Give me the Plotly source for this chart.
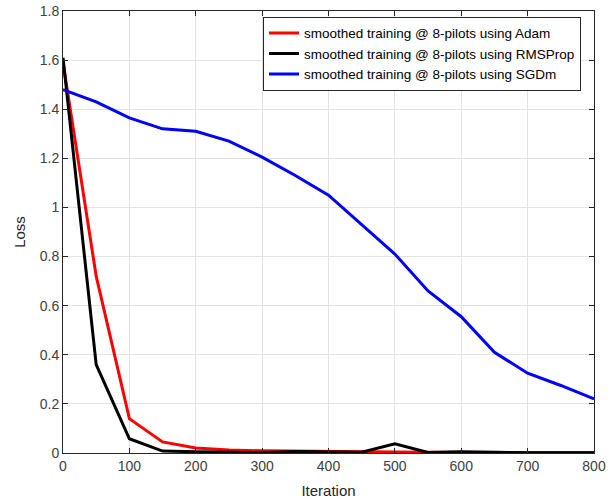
import plotly.graph_objects as go

# Iterations at which the smoothed training loss was recorded
iterations = [0, 50, 100, 150, 200, 250, 300, 350, 400, 450, 500, 550, 600, 650, 700, 750, 800]

loss_adam = [1.59, 0.72, 0.14, 0.045, 0.02, 0.012, 0.009, 0.007, 0.006, 0.005, 0.004, 0.003, 0.003, 0.002, 0.002, 0.002, 0.002]
loss_rmsprop = [1.61, 0.36, 0.058, 0.008, 0.005, 0.002, 0.002, 0.006, 0.003, 0.003, 0.037, 0.002, 0.005, 0.002, 0.001, 0.001, 0.001]
loss_sgdm = [1.48, 1.43, 1.365, 1.32, 1.31, 1.27, 1.205, 1.13, 1.05, 0.93, 0.81, 0.66, 0.555, 0.41, 0.325, 0.275, 0.22]

series_names = [
    "smoothed training @ 8-pilots using Adam",
    "smoothed training @ 8-pilots using RMSProp",
    "smoothed training @ 8-pilots using SGDm",
]
series_colors = ["#ff0000", "#000000", "#0000ff"]

fig = go.Figure()
for name, values, color in zip(series_names, [loss_adam, loss_rmsprop, loss_sgdm], series_colors):
    fig.add_trace(go.Scatter(
        x=iterations, y=values, mode="lines", name=name,
        line=dict(color=color, width=3),
    ))

axis_common = dict(
    showline=True, linecolor="#262626", linewidth=1, mirror="ticks",
    ticks="inside", ticklen=5, tickcolor="#262626",
    showgrid=True, gridcolor="#e3e3e3", gridwidth=1,
    zeroline=False, automargin=False,
    tickfont=dict(family="Liberation Sans, Arial", size=14, color="#404040"),
    title_font=dict(family="Liberation Sans, Arial", size=15, color="#262626"),
)

fig.update_xaxes(range=[0, 800], dtick=100, tick0=0, title_text="Iteration", title_standoff=12, **axis_common)
fig.update_yaxes(range=[0, 1.8], dtick=0.2, tick0=0, title_text="Loss", title_standoff=10, **axis_common)

fig.update_layout(
    width=616, height=504,
    margin=dict(l=63, r=22, t=11, b=51, autoexpand=False),
    paper_bgcolor="white", plot_bgcolor="white",
    legend=dict(
        x=0.9755, y=0.987, xanchor="right", yanchor="top",
        bgcolor="white", bordercolor="#262626", borderwidth=1,
        font=dict(family="Liberation Sans, Arial", size=13.5, color="#000000"),
        tracegroupgap=0,
    ),
    showlegend=True,
)

fig.write_html("out.html")
